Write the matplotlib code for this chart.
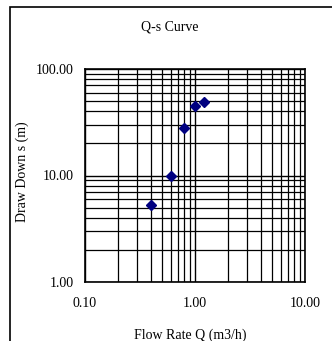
import matplotlib
matplotlib.use('Agg')
import matplotlib.pyplot as plt
from matplotlib.patches import Rectangle
from matplotlib.ticker import FixedLocator, LogLocator, NullFormatter

## data
flow_q = [0.4, 0.6, 0.8, 1.0, 1.2]
draw_down = [5.3, 10.0, 28.0, 45.0, 48.5]
x_ticks = [0.1, 1.0, 10.0]
y_ticks = [1.0, 10.0, 100.0]

plt.rcParams['font.family'] = ['Liberation Serif', 'DejaVu Serif']

W, H = 332, 341
fig = plt.figure(figsize=(W / 100, H / 100), dpi=100)

# frame around the chart area (right and bottom edges fall outside the picture)
fig.patches.append(Rectangle((10 / W, -0.1), 1.2, 1.1 - 7 / H, transform=fig.transFigure,
                             fill=False, edgecolor='black', linewidth=1.2))

ax = fig.add_axes([85 / W, 1 - 282 / H, 220 / W, 213 / H])
ax.plot(flow_q, draw_down, linestyle='none', marker='D', markersize=5.5,
        color='#000080', zorder=3)

ax.set_xscale('log')
ax.set_yscale('log')
ax.set_xlim(0.1, 10)
ax.set_ylim(1, 100)

ax.xaxis.set_major_locator(FixedLocator(x_ticks))
ax.yaxis.set_major_locator(FixedLocator(y_ticks))
ax.set_xticklabels(['%.2f' % v for v in x_ticks])
ax.set_yticklabels(['%.2f' % v for v in y_ticks])
ax.xaxis.set_minor_locator(LogLocator(base=10, subs=range(2, 10)))
ax.yaxis.set_minor_locator(LogLocator(base=10, subs=range(2, 10)))
ax.xaxis.set_minor_formatter(NullFormatter())
ax.yaxis.set_minor_formatter(NullFormatter())

## grids
ax.grid(True, which='major', color='black', linewidth=1.0)
ax.grid(True, which='minor', color='black', linewidth=0.9)
ax.tick_params(which='both', length=0, labelsize=10)
ax.tick_params(axis='x', pad=11)
ax.tick_params(axis='y', pad=8)
for s in ax.spines.values():
    s.set_linewidth(1.2)

## labels
fig.text(170 / W, 1 - 27 / H, 'Q-s Curve', ha='center', va='center', fontsize=10)
fig.text(190 / W, 1 - 335 / H, 'Flow Rate Q (m3/h)', ha='center', va='center', fontsize=10)
fig.text(22 / W, 1 - 172 / H, 'Draw Down s (m)', ha='center', va='center',
         rotation=90, fontsize=10)

fig.savefig('out.png', dpi=100)
